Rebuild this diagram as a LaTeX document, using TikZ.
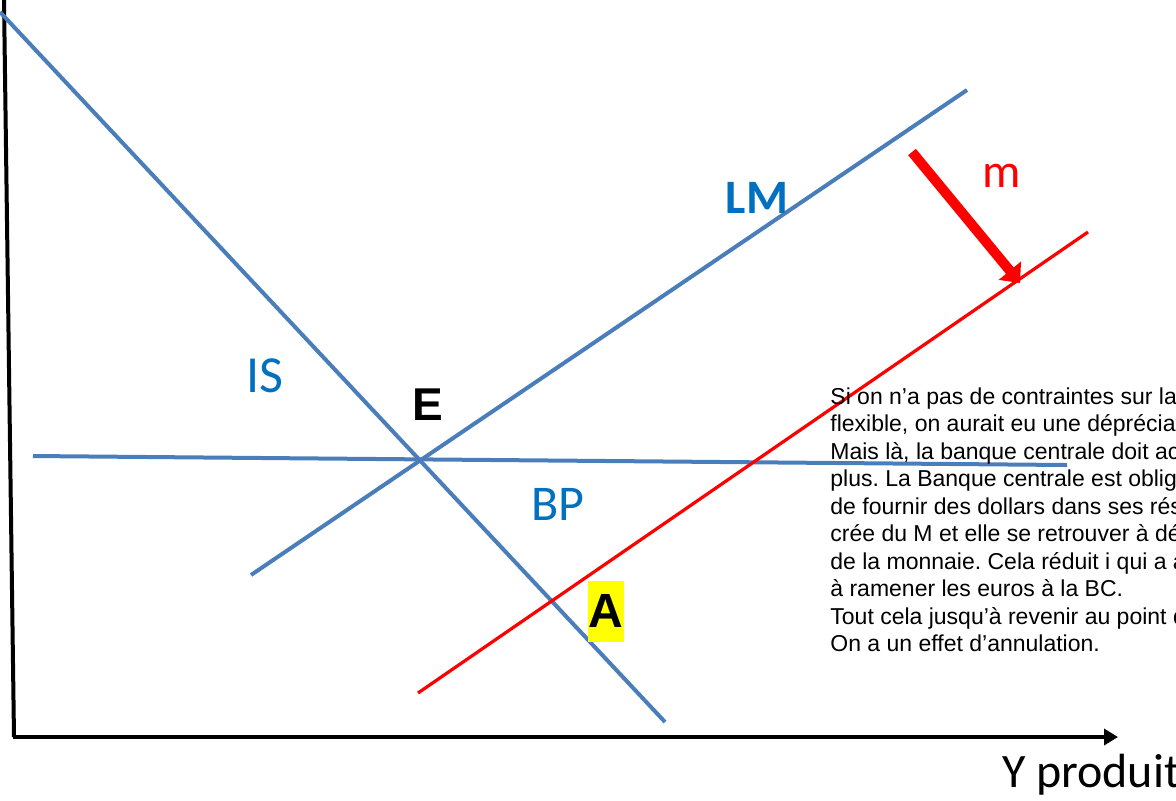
\documentclass[tikz,border=0pt]{standalone}
\usepackage{fontspec}
\usetikzlibrary{arrows.meta}
\setmainfont{Liberation Sans}
\newfontfamily\calibri{Carlito}
\definecolor{curveblue}{HTML}{4A7EBB}
\definecolor{labelblue}{HTML}{0070C0}
\definecolor{shiftred}{HTML}{FF0000}
\definecolor{marker}{HTML}{FFFF00}
\frenchspacing

\begin{document}
\begin{tikzpicture}[x=0.5pt,y=-0.5pt]
  \clip (0,0) rectangle (1176,800);
  % axes
  \draw[line width=2pt] (4,0) -- (14,737);
  \draw[line width=1.8pt,-{Triangle[length=7pt,width=8pt]}] (13,737) -- (1118,737);
  % curves
  \coordinate (IS1) at (0,12);
  \coordinate (IS2) at (665,722);
  \coordinate (LM1) at (251,575);
  \coordinate (LM2) at (967,90);
  \coordinate (BP1) at (33,456);
  \coordinate (BP2) at (1067,465);
  \coordinate (LMm1) at (418,693);
  \coordinate (LMm2) at (1088,232);
  \draw[curveblue,line width=2pt] (IS1) -- (IS2);
  \draw[curveblue,line width=2pt] (LM1) -- (LM2);
  \draw[curveblue,line width=2pt] (BP1) -- (BP2);
  \draw[shiftred,line width=1.6pt] (LMm1) -- (LMm2);
  % shift of LM
  \coordinate (shiftS) at (912,152);
  \coordinate (shiftE) at (1020,283);
  \draw[shiftred,line width=5pt,-{Triangle[length=8pt,width=14pt]}] (shiftS) -- (shiftE);
  % labels
  \node[labelblue,font=\calibri\fontsize{26}{28}\selectfont] (labIS) at (265,376) {IS};
  \node[labelblue,font=\calibri\bfseries\fontsize{24}{26}\selectfont] (labLM) at (757,198) {LM};
  \node[labelblue,font=\calibri\fontsize{25}{27}\selectfont] (labBP) at (558,504) {BP};
  \node[shiftred,font=\calibri\fontsize{24}{26}\selectfont] (labm) at (1002,176) {m};
  \node[font=\bfseries\fontsize{23}{25}\selectfont] (labE) at (428,405) {E};
  \node[fill=marker,inner xsep=0.5pt,inner ysep=7pt,font=\bfseries\fontsize{24}{26}\selectfont] (labA) at (606,611) {A};
  \node[anchor=west,font=\calibri\fontsize{24}{26}\selectfont] (labY) at (995,775) {Y produit};
  % comment
  \node[anchor=north west,inner sep=0pt,align=left,
        font=\fontsize{11.5}{13.75}\selectfont] (note) at (830,387)
    {Si on n’a pas de contraintes sur la\\
     flexible, on aurait eu une dépréciation\\
     Mais là, la banque centrale doit acheter\\
     plus. La Banque centrale est obligée\\
     de fournir des dollars dans ses réserves\\
     crée du M et elle se retrouver à dé\\
     de la monnaie. Cela réduit i qui a a\\
     à ramener les euros à la BC.\\
     Tout cela jusqu’à revenir au point d\\
     On a un effet d’annulation.};
\end{tikzpicture}
\end{document}
